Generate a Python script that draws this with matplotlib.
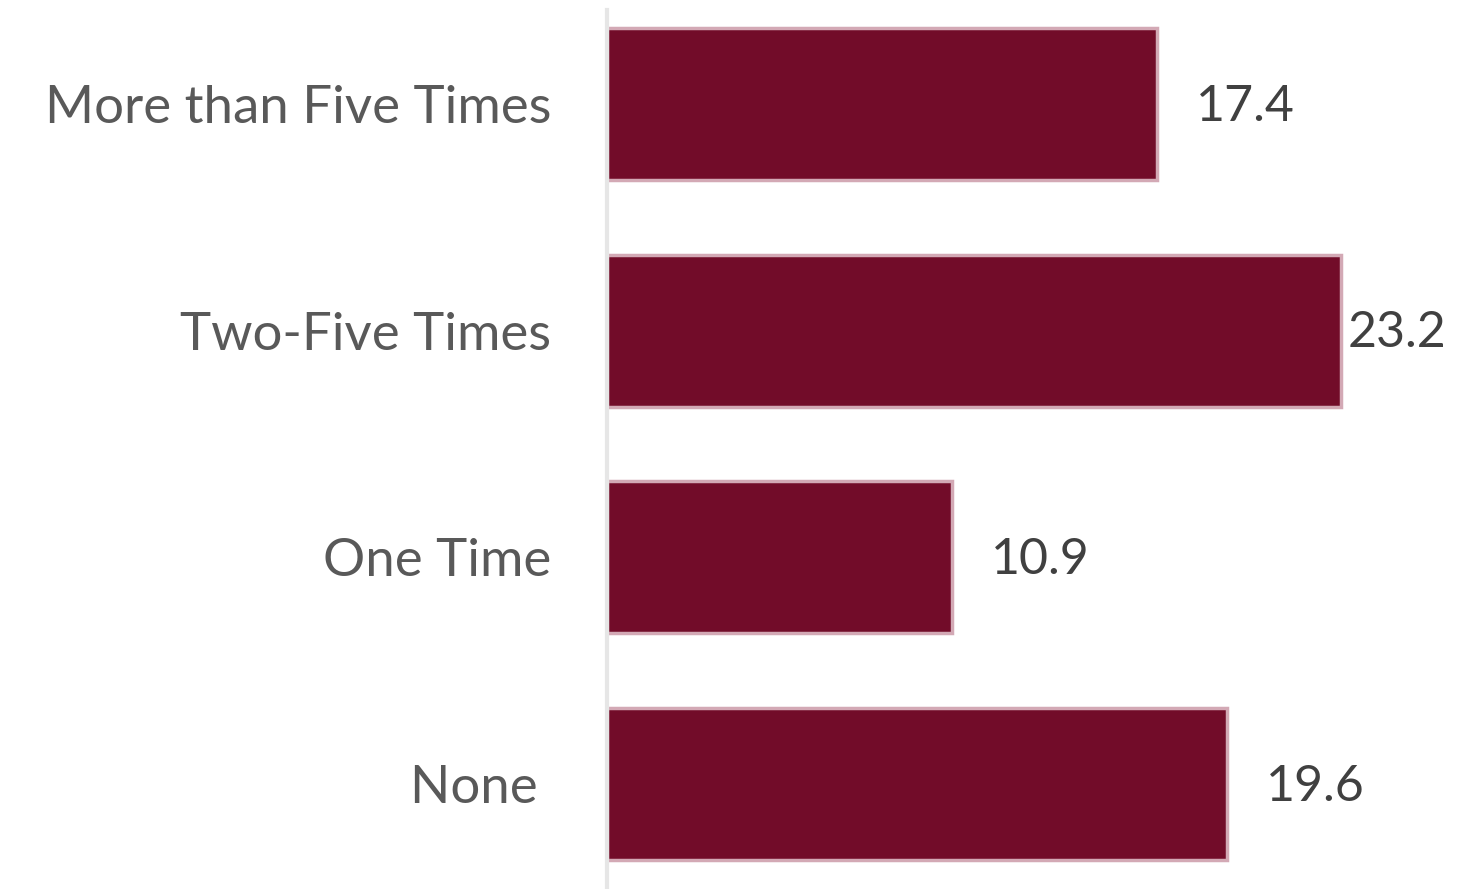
import matplotlib.pyplot as plt
import numpy as np

# dados do grafico
categorias = ['More than Five Times', 'Two-Five Times', 'One Time', 'None ']
valores = [17.4, 23.2, 10.9, 19.6]
rotulos = ['17.4', '23.2', '10.9', '19.6']

plt.rcParams['font.family'] = ['Lato', 'DejaVu Sans']

fig = plt.figure(figsize=(14.64, 8.89), dpi=100)
ax = fig.add_axes([607 / 1464, 0.0, 1 - 607 / 1464, 1 - 10 / 889])

y = np.arange(len(categorias))
ax.barh(y, valores, height=0.67, color='#720c29', edgecolor='#d3a9b5', linewidth=2.5)

ax.set_xlim(0, 27.1)
ax.set_ylim(3.463, -0.414)

# rotulos de valor
for i, (v, r) in enumerate(zip(valores, rotulos)):
    pad = 5 if v > 22 else 28
    ax.annotate(r, (v, i), xytext=(pad, -2), textcoords='offset points',
                ha='left', va='center', fontsize=36, color='#404040')

ax.set_yticks(y)
ax.set_yticklabels(categorias, fontsize=38, color='#595959')
ax.tick_params(axis='y', length=0, pad=40)
ax.set_xticks([])

for s in ['top', 'right', 'bottom']:
    ax.spines[s].set_visible(False)
ax.spines['left'].set_color('#e6e6e6')
ax.spines['left'].set_linewidth(3)

fig.savefig('out.png', dpi=100)
